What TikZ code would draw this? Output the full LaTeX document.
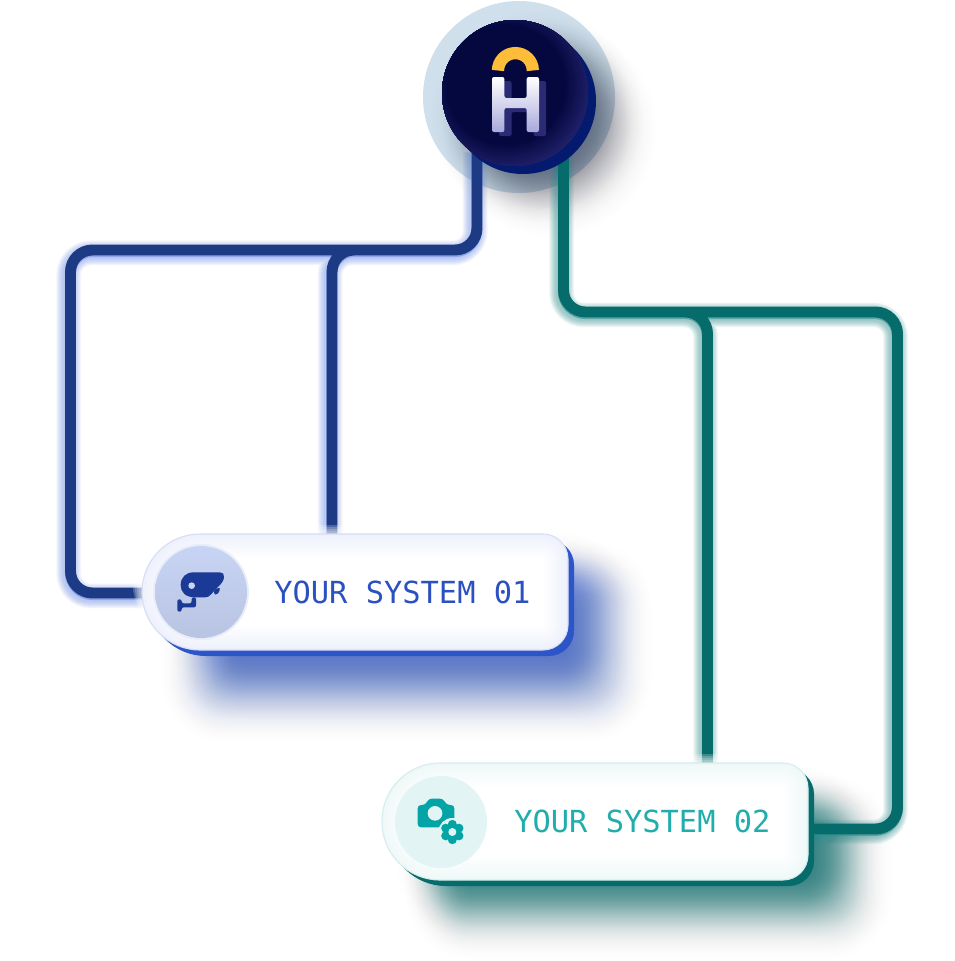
\documentclass[tikz,border=0pt]{standalone}
\usepackage{fontspec}
\setmonofont{DejaVu Sans Mono}
\definecolor{halo}{HTML}{CFE0EC}
\definecolor{navy}{HTML}{041A6E}
\definecolor{hubdark}{HTML}{04083F}
\definecolor{hubrim}{HTML}{25246F}
\definecolor{hubshadow}{HTML}{1F2340}
\definecolor{gold}{HTML}{FDBD39}
\definecolor{hshadow}{HTML}{2B2A74}
\definecolor{hlow}{HTML}{A8A8DC}
\definecolor{bluewire}{HTML}{1D3A85}
\definecolor{blueglow}{HTML}{6F8FE8}
\definecolor{blueback}{HTML}{2C55C8}
\definecolor{blueedge}{HTML}{EEF1FC}
\definecolor{blueborder}{HTML}{D6DEF6}
\definecolor{bluetext}{HTML}{2B50C0}
\definecolor{blueicon}{HTML}{1A3A96}
\definecolor{bluedisctop}{HTML}{C8D4F3}
\definecolor{bluediscbot}{HTML}{B8C4E2}
\definecolor{tealwire}{HTML}{056B6B}
\definecolor{tealglow}{HTML}{2F8F8F}
\definecolor{tealedge}{HTML}{EFF8F8}
\definecolor{tealborder}{HTML}{D5EDEE}
\definecolor{tealtext}{HTML}{21ADAC}
\definecolor{tealicon}{HTML}{02A4A6}
\definecolor{tealdisc}{HTML}{E3F4F4}
\tikzset{
  labeltext/.style={font=\ttfamily\fontsize{22.8pt}{24pt}\selectfont,anchor=base west,inner sep=0pt},
  anchorbox/.style={draw=none,fill=none,inner sep=0pt,rectangle},
  wirecore/.style={line width=8.2pt}
}
% x1 y1 x2 y2 left-radius right-radius options
\newcommand{\cardfill}[7]{%
  \pgfmathsetmacro{\kl}{0.4477*#5}\pgfmathsetmacro{\kr}{0.4477*#6}%
  \path[#7] ({#1+#5},#2) -- ({#3-#6},#2)
    .. controls ({#3-\kr},#2) and (#3,{#2+\kr}) .. (#3,{#2+#6})
    -- (#3,{#4-#6})
    .. controls (#3,{#4-\kr}) and ({#3-\kr},#4) .. ({#3-#6},#4)
    -- ({#1+#5},#4)
    .. controls ({#1+\kl},#4) and (#1,{#4-\kl}) .. (#1,{#4-#5})
    -- (#1,{#2+#5})
    .. controls (#1,{#2+\kl}) and ({#1+\kl},#2) .. ({#1+#5},#2) -- cycle;}
\newcommand{\shadowstack}[7]{% x1 y1 x2 y2 radius colour peak-per-layer
  \foreach \i in {0,...,40}{
    \pgfmathsetmacro{\e}{45-2.25*\i}
    \pgfmathsetmacro{\op}{#7*exp(-(\e/24)^2)}
    \pgfmathsetmacro{\aa}{#1-\e}\pgfmathsetmacro{\bb}{#2-\e}
    \pgfmathsetmacro{\cc}{#3+\e}\pgfmathsetmacro{\dd}{#4+\e}
    \pgfmathsetmacro{\rr}{max(#5+\e,2)}
    \cardfill{\aa}{\bb}{\cc}{\dd}{\rr}{\rr}{fill=#6,opacity=\op}
  }}
\newcommand{\frontcard}[6]{% x1 y1 x2 y2 edgecolour bordercolour
  \cardfill{#1}{#2}{#3}{#4}{58}{25}{fill=#5}
  \foreach \i in {1,...,16}{
    \pgfmathsetmacro{\e}{1.5*\i}
    \pgfmathsetmacro{\p}{100-6.25*\i}
    \pgfmathsetmacro{\aa}{#1+\e}\pgfmathsetmacro{\bb}{#2+\e}
    \pgfmathsetmacro{\cc}{#3-\e}\pgfmathsetmacro{\dd}{#4-\e}
    \pgfmathsetmacro{\rl}{58-\e}\pgfmathsetmacro{\rs}{max(25-\e,1)}
    \cardfill{\aa}{\bb}{\cc}{\dd}{\rl}{\rs}{fill=#5!\p!white}
  }
  \cardfill{#1}{#2}{#3}{#4}{58}{25}{draw=#6,line width=0.8pt}
}
\newcommand{\whitefade}[4]{%
  \foreach \e in {9,7,5,3}{
    \pgfmathsetmacro{\aa}{#1-\e}\pgfmathsetmacro{\bb}{#2-\e}
    \pgfmathsetmacro{\rr}{58+\e}
    \cardfill{\aa}{\bb}{#3}{#4}{\rr}{25}{fill=white,opacity=0.22}
  }}
\newcommand{\wiresoft}[2]{% colour, drawing command
  \foreach \w in {12,...,25}{
    \begin{scope}[transform canvas={xshift=-1.4pt,yshift=-2.2pt}]
      #2{draw=#1,opacity=0.04,line width=\w*0.75pt}
    \end{scope}
  }
  \begin{scope}[transform canvas={xshift=-0.2pt,yshift=-1.2pt}]
    #2{draw=#1,opacity=0.6,line width=8.2pt}
  \end{scope}
}
\newcommand{\bluewires}[1]{%
  \path[#1,rounded corners=16.5pt] (hubL) -- (bendA) -- (bendB) -- (bendC) -- (cardOneL)
    (forkA) -- (bendD) -- (cardOneT);}
\newcommand{\tealwires}[1]{%
  \path[#1,rounded corners=16.5pt] (hubR) -- (bendE) -- (bendF) -- (bendG) -- (cardTwoR)
    (forkB) -- (bendH) -- (cardTwoT);}
\begin{document}
\begin{tikzpicture}[x=0.75pt,y=-0.75pt]
\useasboundingbox (0,0) rectangle (954,961);
\fill[white] (0,0) rectangle (954,961);

% wire way-points
\coordinate (hubL) at (477,150);
\coordinate (bendA) at (477,250);
\coordinate (bendB) at (70.5,250);
\coordinate (bendC) at (70.5,593);
\coordinate (cardOneL) at (150,593);
\coordinate (forkA) at (385,250);
\coordinate (bendD) at (332,250);
\coordinate (cardOneT) at (332,540);
\coordinate (hubR) at (563.5,150);
\coordinate (bendE) at (563.5,312);
\coordinate (bendF) at (897.5,312);
\coordinate (bendG) at (897.5,829);
\coordinate (cardTwoR) at (800,829);
\coordinate (forkB) at (655,312);
\coordinate (bendH) at (707.5,312);
\coordinate (cardTwoT) at (707.5,770);

% halo and hub shadow
\fill[halo] (519,97) circle (96);
\foreach \i in {0,...,40}{
  \pgfmathsetmacro{\e}{44-2.2*\i}
  \pgfmathsetmacro{\op}{0.010*exp(-(\e/24)^2)}
  \pgfmathsetmacro{\rad}{78+\e}
  \fill[hubshadow,opacity=\op] (550,130) circle (\rad);
}
\foreach \i in {0,...,40}{
  \pgfmathsetmacro{\e}{44-2.2*\i}
  \pgfmathsetmacro{\op}{0.034*exp(-(\e/24)^2)}
  \pgfmathsetmacro{\rad}{66+\e}
  \fill[hubshadow,opacity=\op] (537,116) circle (\rad);
}

% card shadows
\shadowstack{195}{575}{618}{708}{30}{blueback}{0.018}
\shadowstack{215}{575}{590}{678}{30}{blueback}{0.05}
\shadowstack{440}{810}{858}{925}{30}{tealwire}{0.018}
\shadowstack{440}{810}{832}{896}{30}{tealwire}{0.06}

% wires
\wiresoft{blueglow}{\bluewires}
\bluewires{draw=bluewire,wirecore}
\wiresoft{tealglow}{\tealwires}
\tealwires{draw=tealwire,wirecore}

% hub
\fill[navy] (523,101) circle (73);
\begin{scope}
  \clip (515,93) circle (73);
  \fill[hubrim] (515,93) circle (73);
  \foreach \i in {0,...,19}{
    \pgfmathsetmacro{\r}{88-1.5*\i}
    \pgfmathsetmacro{\p}{5*\i+5}
    \fill[hubdark!\p!hubrim] (506,85) circle (\r);
  }
\end{scope}
\node[anchorbox,circle,minimum size=110pt] (hub) at (515,93) {};
% logo
\fill[hshadow,rounded corners=1.5pt] (499,81) -- (511.5,81) -- (511.5,102) -- (533.5,102) -- (533.5,81) -- (546,81) -- (546,136) -- (533.5,136) -- (533.5,112) -- (511.5,112) -- (511.5,136) -- (499,136) -- cycle;
\shade[top color=white,bottom color=hlow,rounded corners=1.5pt] (492,77) -- (504.4,77) -- (504.4,98) -- (526.7,98) -- (526.7,77) -- (539,77) -- (539,132) -- (526.7,132) -- (526.7,108) -- (504.4,108) -- (504.4,132) -- (492,132) -- cycle;
\draw[gold,line width=9.2pt] (498,70.5) arc[start angle=180,end angle=0,radius=13.05pt];

% card 1
\whitefade{142}{534}{568}{650}
\cardfill{148}{540}{574}{656}{58}{25}{fill=blueback}
\frontcard{142}{534}{568}{650}{blueedge}{blueborder}
\node[anchorbox,minimum width=319.5pt,minimum height=87pt] (cardOne) at (355,592) {};
\fill[blueborder!55!white] (201,592) circle (48);
\shade[top color=bluedisctop,bottom color=bluediscbot] (201,592) circle (46);
\node[labeltext,text=bluetext] (labelOne) at (274,603) {YOUR SYSTEM 01};
\begin{scope}[shift={(130,520)},x=0.25pt,y=-0.25pt]
  \fill[blueicon] (190,157) -- (270,157) .. controls (279,157) and (282,162) .. (282,170) -- (281,178) .. controls (281,182) and (279,185) .. (276,188) -- (244,222) .. controls (238,229) and (234,232) .. (226,232) -- (195,232) .. controls (165,232) and (152,215) .. (152,195) .. controls (152,172) and (168,157) .. (190,157) -- cycle;
  \fill[blueicon,rounded corners=1pt] (252,210) -- (270,202) -- (268,216) -- (258,225) -- (252,222) -- cycle;
  \fill[blueicon,rounded corners=1.5pt] (142,238) -- (155,238) -- (155,250) -- (185,250) -- (185,232) -- (198,232) -- (198,262) -- (155,262) -- (155,275) -- (142,275) -- cycle;
  \fill[bluedisctop] (185,197) circle (10);
\end{scope}

% card 2
\whitefade{382}{763}{808}{880}
\cardfill{388}{769}{814}{886}{58}{25}{fill=tealwire}
\frontcard{382}{763}{808}{880}{tealedge}{tealborder}
\node[anchorbox,minimum width=319.5pt,minimum height=87pt] (cardTwo) at (595,822) {};
\fill[tealdisc] (441,822) circle (46);
\node[labeltext,text=tealtext] (labelTwo) at (514,832) {YOUR SYSTEM 02};
\begin{scope}[shift={(375,750)},x=0.25pt,y=-0.25pt]
  \fill[tealicon,rounded corners=2.5pt] (128,165) -- (152,165) -- (160,146) -- (205,146) -- (214,165) -- (238,165) -- (238,232) -- (128,232) -- cycle;
  \fill[tealdisc] (180,190) circle (22);
  \fill[tealdisc] (232,246) circle (42);
  \fill[tealicon] (232,246) circle (25);
  \foreach \a in {90,150,210,270,330,30}{
    \fill[tealicon] ({232+23*cos(\a)},{246+23*sin(\a)}) circle (13.5);
  }
  \fill[tealdisc] (232,246) circle (12);
\end{scope}
\end{tikzpicture}
\end{document}
